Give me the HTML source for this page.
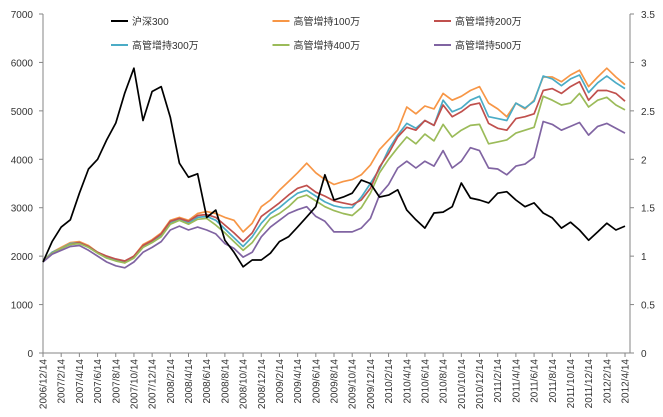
<!DOCTYPE html>
<html><head><meta charset="utf-8"><style>
body{margin:0;background:#fff;}
svg{display:block;font-family:"Liberation Sans","Noto Sans CJK SC",sans-serif;}
</style></head><body>
<svg id="chart" width="663" height="417" xmlns="http://www.w3.org/2000/svg"></svg>
<script>
const xLabels=["2006/12/14","2007/2/14","2007/4/14","2007/6/14","2007/8/14","2007/10/14","2007/12/14","2008/2/14","2008/4/14","2008/6/14","2008/8/14","2008/10/14","2008/12/14","2009/2/14","2009/4/14","2009/6/14","2009/8/14","2009/10/14","2009/12/14","2010/2/14","2010/4/14","2010/6/14","2010/8/14","2010/10/14","2010/12/14","2011/2/14","2011/4/14","2011/6/14","2011/8/14","2011/10/14","2011/12/14","2012/2/14","2012/4/14"];
const leftTicks=[0,1000,2000,3000,4000,5000,6000,7000];
const rightTicks=["0","0.5","1","1.5","2","2.5","3","3.5"];
const seriesNames=["沪深300","高管增持100万","高管增持200万","高管增持300万","高管增持400万","高管增持500万"];
const csi300=[1880,2300,2600,2750,3300,3800,4000,4400,4750,5370,5880,4800,5400,5500,4870,3920,3630,3700,2800,2950,2330,2080,1780,1920,1920,2060,2300,2400,2600,2810,3020,3680,3160,3220,3300,3570,3500,3220,3260,3370,2950,2750,2580,2890,2910,3020,3510,3200,3160,3100,3300,3330,3160,3020,3100,2890,2790,2580,2700,2540,2330,2500,2680,2540,2620];
const s100=[0.95,1.04,1.09,1.14,1.15,1.11,1.04,0.99,0.96,0.93,1.0,1.12,1.17,1.24,1.37,1.40,1.37,1.44,1.46,1.44,1.40,1.37,1.25,1.34,1.51,1.58,1.68,1.77,1.86,1.96,1.86,1.79,1.74,1.77,1.79,1.84,1.94,2.10,2.20,2.30,2.54,2.47,2.55,2.52,2.68,2.61,2.65,2.71,2.75,2.58,2.52,2.44,2.58,2.52,2.61,2.85,2.85,2.80,2.87,2.92,2.75,2.85,2.94,2.85,2.77];
const s200=[0.95,1.03,1.08,1.12,1.14,1.10,1.04,1.0,0.97,0.95,1.0,1.11,1.16,1.23,1.36,1.39,1.36,1.42,1.43,1.40,1.32,1.24,1.15,1.24,1.41,1.48,1.55,1.63,1.70,1.73,1.66,1.62,1.57,1.55,1.53,1.58,1.70,1.92,2.06,2.23,2.33,2.30,2.40,2.35,2.56,2.44,2.49,2.56,2.58,2.37,2.32,2.30,2.42,2.44,2.47,2.71,2.73,2.68,2.75,2.80,2.61,2.71,2.71,2.68,2.60];
const s300=[0.95,1.04,1.08,1.13,1.14,1.10,1.04,0.99,0.96,0.94,0.99,1.10,1.15,1.21,1.34,1.38,1.34,1.40,1.41,1.37,1.28,1.19,1.10,1.20,1.34,1.44,1.50,1.58,1.65,1.68,1.62,1.56,1.52,1.50,1.50,1.61,1.75,1.90,2.10,2.25,2.37,2.32,2.40,2.35,2.61,2.49,2.53,2.61,2.65,2.44,2.42,2.40,2.58,2.53,2.60,2.86,2.83,2.76,2.83,2.87,2.69,2.79,2.86,2.79,2.73];
const s400=[0.95,1.03,1.08,1.12,1.13,1.09,1.03,0.98,0.95,0.93,0.98,1.09,1.14,1.20,1.33,1.37,1.33,1.38,1.39,1.32,1.24,1.15,1.06,1.14,1.27,1.39,1.44,1.51,1.60,1.63,1.57,1.51,1.47,1.44,1.42,1.50,1.65,1.86,2.0,2.12,2.23,2.16,2.26,2.19,2.36,2.23,2.30,2.35,2.36,2.16,2.18,2.20,2.27,2.30,2.33,2.65,2.61,2.56,2.58,2.68,2.54,2.61,2.64,2.56,2.51];
const s500=[0.94,1.02,1.06,1.10,1.11,1.06,1.0,0.94,0.90,0.88,0.94,1.04,1.09,1.15,1.27,1.31,1.27,1.30,1.27,1.23,1.13,1.08,0.99,1.04,1.20,1.30,1.37,1.44,1.48,1.51,1.41,1.36,1.25,1.25,1.25,1.29,1.39,1.63,1.74,1.91,1.98,1.91,1.98,1.93,2.09,1.91,1.98,2.12,2.09,1.91,1.90,1.84,1.93,1.95,2.02,2.39,2.36,2.30,2.34,2.38,2.25,2.34,2.37,2.32,2.27];

const NS="http://www.w3.org/2000/svg";
const svg=document.getElementById('chart');
const X0=43,X1=630,Y0=353,Y1=14,STEP=9.094;
const xPos=i=>X0+i*STEP;
const yL=v=>Y0-(v/7000)*(Y0-Y1);
const yR=v=>Y0-(v/3.5)*(Y0-Y1);
function mk(tag,attrs,parent){const e=document.createElementNS(NS,tag);for(const k in attrs)e.setAttribute(k,attrs[k]);(parent||svg).appendChild(e);return e;}

const axes=mk('g',{});


let ax=mk('line',{x1:X0,y1:Y1,x2:X0,y2:Y0,stroke:'#868686','stroke-width':1},axes);


ax=mk('line',{x1:X1,y1:Y1,x2:X1,y2:Y0,stroke:'#868686','stroke-width':1},axes);


ax=mk('line',{x1:X0,y1:Y0,x2:X1,y2:Y0,stroke:'#868686','stroke-width':1},axes);



leftTicks.forEach(v=>{
  const y=yL(v);
  mk('line',{x1:X0-4,y1:y,x2:X0,y2:y,stroke:'#868686'},axes);
  const t=mk('text',{x:33,y:y+4,'text-anchor':'end','font-size':10,fill:'#333'},axes);
  t.textContent=v;
  
  
});
rightTicks.forEach((v,i)=>{
  const y=yR(i*0.5);
  mk('line',{x1:X1,y1:y,x2:X1+4,y2:y,stroke:'#868686'},axes);
  const t=mk('text',{x:641,y:y+4,'font-size':10,fill:'#333'},axes);
  t.textContent=v;
  
  
});
xLabels.forEach((s,i)=>{
  const x=xPos(i*2);
  mk('line',{x1:x,y1:Y0,x2:x,y2:Y0+4,stroke:'#868686'},axes);
  const t=mk('text',{x:0,y:0,'text-anchor':'end','font-size':10,fill:'#333',transform:`translate(${x+3.5},359) rotate(-90)`},axes);
  t.textContent=s;
  
  
});

function drawLine(vals,scale,color,name){
  const d=vals.map((v,i)=>(i?'L':'M')+xPos(i).toFixed(1)+','+scale(v).toFixed(1)).join('');
  const p=mk('path',{d:d,fill:'none',stroke:color,'stroke-width':1.7,'stroke-linejoin':'round'});
  
  
}
drawLine(s100,yR,'#F79646','line-100');
drawLine(s300,yR,'#4BACC6','line-300');
drawLine(s200,yR,'#C0504D','line-200');
drawLine(s400,yR,'#9BBB59','line-400');
drawLine(s500,yR,'#8064A2','line-500');
drawLine(csi300,yL,'#000000','line-csi300');

const colors=['#000000','#F79646','#C0504D','#4BACC6','#9BBB59','#8064A2'];
const legend=mk('g',{});


seriesNames.forEach((n,i)=>{
  const col=i%3,row=Math.floor(i/3);
  const lx=111+col*161.5,ly=21+row*24;
  const g=mk('g',{},legend);
  
  
  mk('line',{x1:lx,y1:ly,x2:lx+17,y2:ly,stroke:colors[i],'stroke-width':2},g);
  const t=mk('text',{x:lx+21,y:ly+4,'font-size':10,fill:'#333'},g);
  t.textContent=n;
});
</script>
</body></html>
